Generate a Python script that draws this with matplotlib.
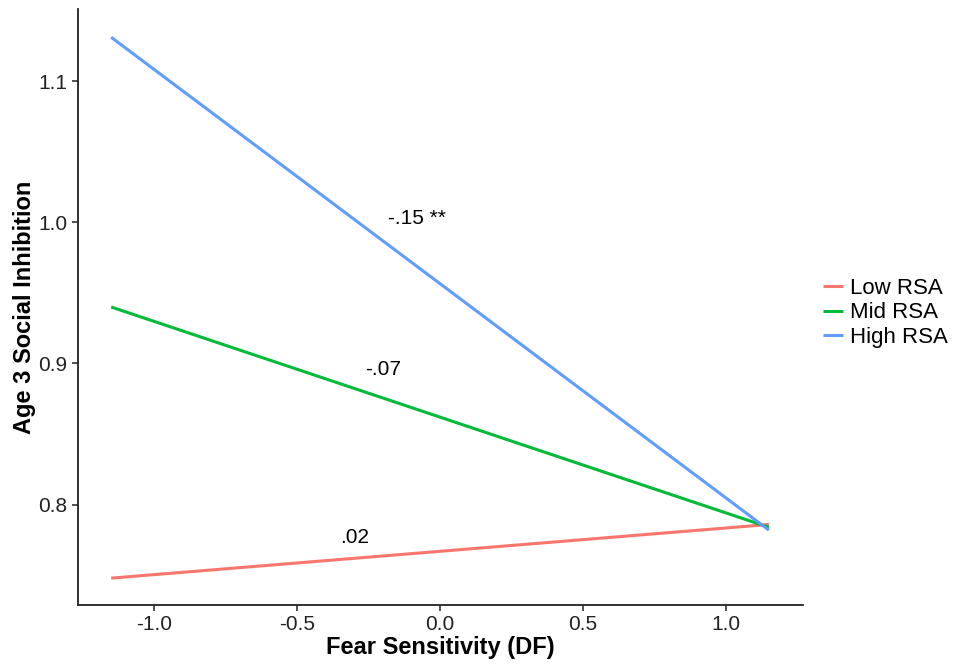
import matplotlib
matplotlib.use('Agg')
import matplotlib.pyplot as plt

plt.rcParams['font.family'] = ['Liberation Sans', 'DejaVu Sans']

# Fitted simple slopes, evaluated at the ends of the DF range
x_ends = [-1.15, 1.15]
low_rsa = [0.748, 0.786]
mid_rsa = [0.940, 0.784]
high_rsa = [1.131, 0.782]

labels = ['Low RSA', 'Mid RSA', 'High RSA']
colors = ['#F8766D', '#00BA38', '#619CFF']

# slope labels and where they sit
slope_text = ['.02', '-.07', '-.15 **']
slope_x = [-0.30, -0.20, -0.08]
slope_y = [0.777, 0.896, 1.003]

fig = plt.figure(figsize=(9.57, 6.67), dpi=100)
ax = fig.add_axes([0.0815, 0.093, 0.7575, 0.8935])

for series, lab, col in zip([low_rsa, mid_rsa, high_rsa], labels, colors):
    ax.plot(x_ends, series, color=col, lw=2.2, label=lab, solid_capstyle='butt')

for t, xx, yy in zip(slope_text, slope_x, slope_y):
    ax.text(xx, yy, t, fontsize=15, ha='center', va='center')

ax.set_xlim(-1.266, 1.269)
ax.set_ylim(0.729, 1.151)
ax.set_xticks([-1.0, -0.5, 0.0, 0.5, 1.0])
ax.set_yticks([0.8, 0.9, 1.0, 1.1])
ax.set_xticklabels(['-1.0', '-0.5', '0.0', '0.5', '1.0'])
ax.set_yticklabels(['0.8', '0.9', '1.0', '1.1'])
ax.tick_params(labelsize=15, length=4, width=1.2, colors='#333333', labelcolor='#222222')

for s in ['top', 'right']:
    ax.spines[s].set_visible(False)
for s in ['left', 'bottom']:
    ax.spines[s].set_linewidth(1.3)
    ax.spines[s].set_color('#222222')

ax.set_xlabel('Fear Sensitivity (DF)', fontsize=17, fontweight='bold', labelpad=1)
ax.set_ylabel('Age 3 Social Inhibition', fontsize=17, fontweight='bold', labelpad=2)

ax.legend(loc='center left', bbox_to_anchor=(1.0, 0.49), frameon=False, fontsize=16,
          handlelength=0.9, handletextpad=0.3, labelspacing=0.15, borderaxespad=0.5)

fig.savefig('out.png', dpi=100)
